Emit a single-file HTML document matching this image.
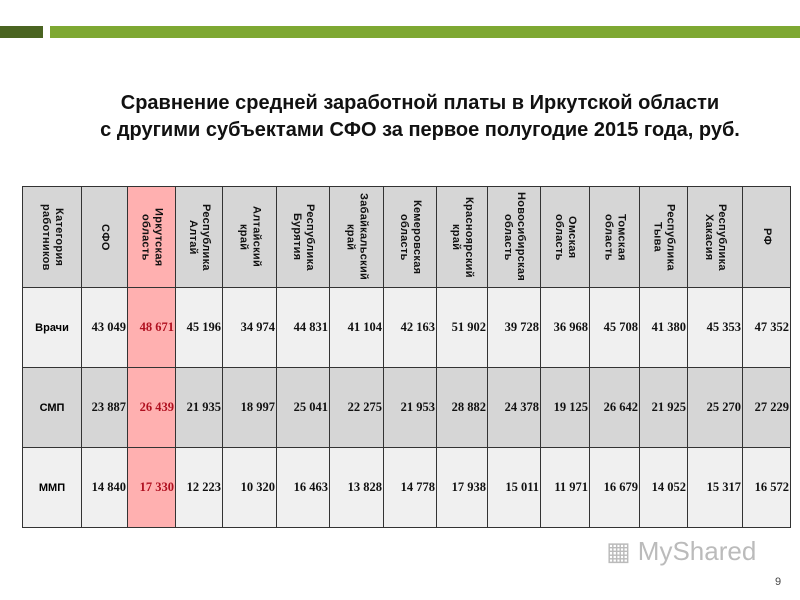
<!DOCTYPE html>
<html><head><meta charset="utf-8"><style>
body{margin:0;width:800px;height:600px;background:#fff;position:relative;overflow:hidden;font-family:"Liberation Sans","DejaVu Sans",sans-serif}
.abs{position:absolute}
.cell{position:absolute;box-sizing:border-box;border-right:1.5px solid #333;border-bottom:1.5px solid #333;display:flex;align-items:center;justify-content:center}
.h{writing-mode:vertical-rl;font-size:11px;line-height:13px;text-align:center;color:#111;font-weight:bold;letter-spacing:0.3px}
.v{font-family:"Liberation Serif",serif;font-size:12.5px;font-weight:bold;color:#111;justify-content:flex-end;padding-right:1px}
</style></head><body>
<div class="abs" style="left:0;top:26px;width:43px;height:12px;background:#4a6421"></div>
<div class="abs" style="left:50px;top:26px;width:750px;height:12px;background:#7ea832"></div>
<div class="abs" style="left:0;width:840px;top:90px;text-align:center;font-size:20px;font-weight:bold;line-height:27px;color:#111">Сравнение средней заработной платы в Иркутской области<br>с другими субъектами СФО за первое полугодие 2015 года, руб.</div>
<div id="tbl" class="abs" style="left:0;top:0"></div>
<div class="abs" style="left:606px;top:536px;font-size:26px;color:#bbb">▦ MyShared</div>
<div class="abs" style="left:775px;top:576px;font-size:11px;color:#444">9</div>
<script>
const cols=[22,82,128,176,223,277,330,384,437,488,541,590,640,688,743,791];
const rowsY=[186,288,368,448,528];
const headers=["Категория работников","СФО","Иркутская область","Республика Алтай","Алтайский край","Республика Бурятия","Забайкальский край","Кемеровская область","Красноярский край","Новосибирская область","Омская область","Томская область","Республика Тыва","Республика Хакасия","РФ"];
const categories=["Врачи","СМП","ММП"];
const doctors=["43 049","48 671","45 196","34 974","44 831","41 104","42 163","51 902","39 728","36 968","45 708","41 380","45 353","47 352"];
const nurses=["23 887","26 439","21 935","18 997","25 041","22 275","21 953","28 882","24 378","19 125","26 642","21 925","25 270","27 229"];
const juniors=["14 840","17 330","12 223","10 320","16 463","13 828","14 778","17 938","15 011","11 971","16 679","14 052","15 317","16 572"];
const series=[doctors,nurses,juniors];
const t=document.getElementById('tbl');
const rowBg=["#d6d6d6","#f0f0f0","#d6d6d6","#f0f0f0"];
function mk(r,c,txt){
 const d=document.createElement('div');
 d.className='cell'+(r>0&&c>0?' v':'');
 d.style.left=cols[c]+'px';d.style.top=rowsY[r]+'px';
 d.style.width=(cols[c+1]-cols[c])+'px';d.style.height=(rowsY[r+1]-rowsY[r])+'px';
 d.style.background=c==2?'#ffb0b0':rowBg[r];
 if(c==0)d.style.borderLeft='1.5px solid #333';
 if(r==0)d.style.borderTop='1.5px solid #333';
 const s=document.createElement('span');
 if(r==0){s.className='h';s.innerHTML=txt.split(' ').join('<br>');}
 else{
  if(c==0){s.style.fontSize='11px';s.style.fontWeight='bold';}
  if(c==2)s.style.color='#b01020';
  s.textContent=txt;
 }
 d.appendChild(s);
 
 
 t.appendChild(d);
}
headers.forEach((h,c)=>mk(0,c,h));
categories.forEach((cat,i)=>{mk(i+1,0,cat);series[i].forEach((v,j)=>mk(i+1,j+1,v));});
</script>
</body></html>
